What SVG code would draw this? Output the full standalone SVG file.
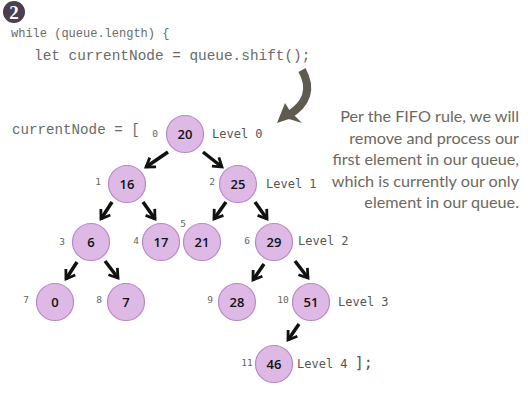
<svg xmlns="http://www.w3.org/2000/svg" width="528" height="408" viewBox="0 0 528 408">
<defs>
<marker id="chev" viewBox="0 0 10 10" refX="7" refY="5" markerWidth="4" markerHeight="4" orient="auto" markerUnits="strokeWidth">
<polyline points="1,1 7,5 1,9" fill="none" stroke="#111" stroke-width="2" stroke-linejoin="miter"/>
</marker>
</defs>
<style>
.code{font-family:"Liberation Mono","DejaVu Sans Mono",monospace;fill:#6a6a6a;}
.idx{font-family:"DejaVu Sans Mono",monospace;font-size:9.5px;fill:#666;}
.lvl{font-family:"DejaVu Sans Mono",monospace;font-size:12px;fill:#555;}
.node circle{fill:#dfb9e6;stroke:#b888c8;stroke-width:1.2;}
.node text{font-family:"Open Sans","Liberation Sans",sans-serif;font-size:13px;font-weight:600;fill:#111;text-anchor:middle;}
.edge{stroke:#111;stroke-width:3.5;fill:none;marker-end:url(#chev);}
.note{font-family:Lato,"Open Sans",sans-serif;font-size:16.2px;fill:#6b695e;text-anchor:end;}
</style>
<rect width="528" height="408" fill="#fff"/>
<g id="badge">
<circle cx="14" cy="12" r="11" fill="#4c3d4f"/>
<text x="14" y="18.5" font-family="Liberation Serif,serif" font-weight="bold" font-size="19" fill="#fff" text-anchor="middle">2</text>
</g>
<text class="code" x="11" y="37" font-size="12">while (queue.length) {</text>
<text class="code" x="34" y="60" font-size="14.4">let currentNode = queue.shift();</text>
<text class="code" x="12" y="134" font-size="14.2">currentNode = [</text>
<g id="bigarrow" fill="none" stroke="#5f5c4f">
<path d="M302,70 C312,88 308,104 287,116" stroke-width="8"/>
<polygon points="277,123 285,103 290,111 302,123 289,119" fill="#5f5c4f" stroke="none"/>
</g>
<g id="connectors">
<line class="edge" x1="168" y1="152" x2="146" y2="167"/>
<line class="edge" x1="203" y1="152" x2="222" y2="167"/>
<line class="edge" x1="112" y1="202" x2="101" y2="219"/>
<line class="edge" x1="143" y1="202" x2="155" y2="219"/>
<line class="edge" x1="226" y1="202" x2="214" y2="219"/>
<line class="edge" x1="255" y1="202" x2="267" y2="219"/>
<line class="edge" x1="77" y1="262" x2="66" y2="279"/>
<line class="edge" x1="105" y1="261" x2="118" y2="278"/>
<line class="edge" x1="264" y1="264" x2="253" y2="280"/>
<line class="edge" x1="295" y1="261" x2="308" y2="278"/>
<line class="edge" x1="299" y1="324" x2="288" y2="340"/>
</g>
<g id="n20" class="node"><circle cx="185" cy="134" r="18.5"/><text x="185" y="139">20</text></g>
<g id="n16" class="node"><circle cx="127" cy="184" r="18.5"/><text x="127" y="189">16</text></g>
<g id="n25" class="node"><circle cx="238" cy="184" r="18.5"/><text x="238" y="189">25</text></g>
<g id="n6" class="node"><circle cx="91" cy="242" r="18.5"/><text x="91" y="247">6</text></g>
<g id="n17" class="node"><circle cx="161" cy="242" r="18.5"/><text x="161" y="247">17</text></g>
<g id="n21" class="node"><circle cx="202" cy="242" r="18.5"/><text x="202" y="247">21</text></g>
<g id="n29" class="node"><circle cx="274" cy="242" r="18.5"/><text x="274" y="247">29</text></g>
<g id="n0" class="node"><circle cx="55" cy="302" r="18.5"/><text x="55" y="307">0</text></g>
<g id="n7" class="node"><circle cx="126" cy="302" r="18.5"/><text x="126" y="307">7</text></g>
<g id="n28" class="node"><circle cx="237" cy="302" r="18.5"/><text x="237" y="307">28</text></g>
<g id="n51" class="node"><circle cx="311" cy="302" r="18.5"/><text x="311" y="307">51</text></g>
<g id="n46" class="node"><circle cx="274" cy="364" r="18.5"/><text x="274" y="369">46</text></g>
<g id="indices" text-anchor="middle">
<text class="idx" x="155" y="137">0</text>
<text class="idx" x="98" y="185">1</text>
<text class="idx" x="212" y="185">2</text>
<text class="idx" x="62" y="245">3</text>
<text class="idx" x="136" y="244">4</text>
<text class="idx" x="183" y="227">5</text>
<text class="idx" x="247" y="244">6</text>
<text class="idx" x="26" y="303">7</text>
<text class="idx" x="99" y="303">8</text>
<text class="idx" x="210" y="303">9</text>
<text class="idx" x="283" y="303">10</text>
<text class="idx" x="247" y="366">11</text>
</g>
<g id="levels">
<text class="lvl" x="212" y="138">Level 0</text>
<text class="lvl" x="266" y="188">Level 1</text>
<text class="lvl" x="298" y="245">Level 2</text>
<text class="lvl" x="338" y="306">Level 3</text>
<text class="lvl" x="297" y="368">Level 4 <tspan font-size="15">];</tspan></text>
</g>
<g id="note">
<text class="note" x="519" y="122">Per the FIFO rule, we will</text>
<text class="note" x="519" y="144">remove and process our</text>
<text class="note" x="519" y="165">first element in our queue,</text>
<text class="note" x="519" y="187">which is currently our only</text>
<text class="note" x="519" y="208">element in our queue.</text>
</g>
</svg>
